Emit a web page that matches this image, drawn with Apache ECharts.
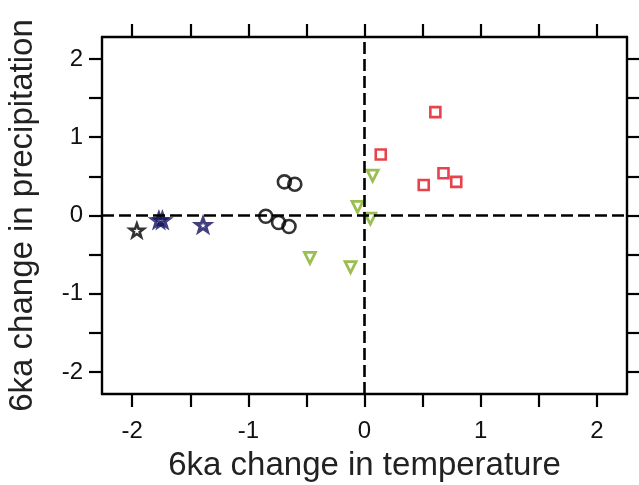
<!DOCTYPE html>
<html>
<head>
<meta charset="utf-8">
<script src="https://cdn.jsdelivr.net/npm/echarts@6/dist/echarts.min.js"></script>
<style>html,body{margin:0;padding:0;background:#fff;}#c{width:639px;height:485px;}</style>
</head>
<body>
<div id="c"></div>
<script>
const xTitle = '6ka change in temperature';
const yTitle = '6ka change in precipitation';
const tickValues = [-2, -1.5, -1, -0.5, 0, 0.5, 1, 1.5, 2];
const labelValues = [-2, -1, 0, 1, 2];

const circles = [[-0.85, -0.01], [-0.74, -0.09], [-0.65, -0.14], [-0.69, 0.43], [-0.60, 0.40]];
const blackStars = [[-1.96, -0.19]];
const navyStars = [[-1.77, -0.06], [-1.74, -0.06], [-1.39, -0.12]];
const triangles = [[0.07, 0.51], [-0.06, 0.11], [0.05, -0.04], [-0.12, -0.66], [-0.47, -0.54]];
const squares = [[0.61, 1.32], [0.14, 0.78], [0.68, 0.54], [0.79, 0.43], [0.51, 0.39]];

const starPath = 'path://M0,-10L2.35,-3.24L9.51,-3.09L3.8,1.24L5.88,8.09L0,4L-5.88,8.09L-3.8,1.24L-9.51,-3.09L-2.35,-3.24Z';
const FONT = 'Liberation Sans, Arial, sans-serif';

function hollow(color, w) {
  return { color: 'rgba(255,255,255,0)', borderColor: color, borderWidth: w };
}

const chart = echarts.init(document.getElementById('c'));
const xmin = -2.26, xmax = 2.26, ymin = -2.28, ymax = 2.28;
function axisBase(pos, isX, showLabel) {
  return {
    type: 'value', position: pos,
    min: isX ? xmin : ymin, max: isX ? xmax : ymax,
    splitLine: { show: false },
    axisLine: { show: true, onZero: false, lineStyle: { color: '#000', width: 2.4 } },
    axisTick: { show: true, inside: false, length: 13, customValues: tickValues, lineStyle: { color: '#000', width: 2.2 } },
    axisLabel: { show: showLabel, customValues: labelValues, color: '#111', fontSize: 24, fontFamily: FONT, margin: 20 }
  };
}
const xa = axisBase('bottom', true, true);
xa.name = xTitle; xa.nameLocation = 'middle'; xa.nameGap = 55;
xa.nameTextStyle = { color: '#222', fontSize: 33, fontFamily: FONT };
xa.axisLabel.margin = 25;
const xt = axisBase('top', true, false);
const ya = axisBase('left', false, true);
ya.name = yTitle; ya.nameLocation = 'middle'; ya.nameGap = 63;
ya.nameTextStyle = { color: '#222', fontSize: 33, fontFamily: FONT };
ya.axisLabel.margin = 19;
const yr = axisBase('right', false, false);

chart.setOption({
  animation: false,
  backgroundColor: '#fff',
  grid: { left: 102, right: 12, top: 37, bottom: 91, containLabel: false, outerBoundsMode: 'none' },
  xAxis: [xa, xt],
  yAxis: [ya, yr],
  series: [
    {
      type: 'scatter', data: circles, symbol: 'circle', symbolSize: 13,
      itemStyle: hollow('#000', 2.6),
      markLine: {
        silent: true, symbol: 'none', label: { show: false },
        lineStyle: { color: '#000', width: 2.6, type: [12, 5] },
        data: [{ xAxis: 0 }, { yAxis: 0 }]
      },
      z: 3
    },
    { type: 'scatter', data: blackStars, symbol: starPath, symbolSize: 14, symbolKeepAspect: true, itemStyle: hollow('#000', 2.6), z: 3 },
    { type: 'scatter', data: navyStars, symbol: starPath, symbolSize: 14, symbolKeepAspect: true, itemStyle: hollow('#12105e', 3), z: 3 },
    { type: 'scatter', data: triangles, symbol: 'triangle', symbolRotate: 180, symbolSize: 11, itemStyle: hollow('#82ae24', 2.8), z: 3 },
    { type: 'scatter', data: squares, symbol: 'rect', symbolSize: 10, itemStyle: hollow('#e0141f', 2.6), z: 3 }
  ]
});
</script>
</body>
</html>
